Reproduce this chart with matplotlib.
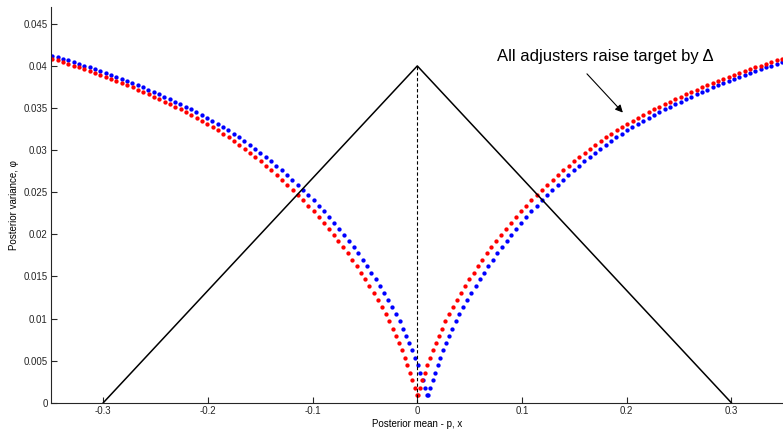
import matplotlib
matplotlib.use('Agg')
import matplotlib.pyplot as plt
import numpy as np

plt.rcParams['font.family'] = ['Liberation Sans', 'DejaVu Sans']

# posterior variance at each step, and distance of the posterior mean from target
phi_levels = [0.00095, 0.00180, 0.00268, 0.00356, 0.00445, 0.00534, 0.00621, 0.00708, 0.00795, 0.00880,
              0.00965, 0.01050, 0.01140, 0.01222, 0.01303, 0.01384, 0.01464, 0.01543, 0.01622, 0.01700,
              0.01776, 0.01851, 0.01925, 0.01997, 0.02068, 0.02138, 0.02207, 0.02274, 0.02340, 0.02404,
              0.02467, 0.02529, 0.02589, 0.02647, 0.02704, 0.02759, 0.02813, 0.02865, 0.02916, 0.02966,
              0.03015, 0.03063, 0.03109, 0.03153, 0.03196, 0.03237, 0.03276, 0.03313, 0.03349, 0.03384,
              0.03418, 0.03451, 0.03483, 0.03514, 0.03545, 0.03575, 0.03605, 0.03634, 0.03662, 0.03690,
              0.03717, 0.03744, 0.03770, 0.03795, 0.03820, 0.03845, 0.03869, 0.03892, 0.03915, 0.03938,
              0.03960, 0.03982, 0.04003, 0.04024, 0.04045, 0.04065, 0.04085, 0.04104, 0.04123, 0.04142,
              0.04160]
spread = [0.0006, 0.0024, 0.0046, 0.0070, 0.0094, 0.0119, 0.0146, 0.0175, 0.0205, 0.0236,
          0.0268, 0.0302, 0.0340, 0.0376, 0.0416, 0.0457, 0.0498, 0.0538, 0.0579, 0.0621,
          0.0664, 0.0708, 0.0753, 0.0799, 0.0846, 0.0893, 0.0941, 0.0990, 0.1040, 0.1089,
          0.1140, 0.1191, 0.1242, 0.1293, 0.1344, 0.1395, 0.1446, 0.1497, 0.1548, 0.1599,
          0.1650, 0.1701, 0.1752, 0.1803, 0.1854, 0.1905, 0.1956, 0.2007, 0.2058, 0.2109,
          0.2160, 0.2211, 0.2262, 0.2313, 0.2364, 0.2415, 0.2466, 0.2517, 0.2568, 0.2619,
          0.2670, 0.2721, 0.2772, 0.2823, 0.2874, 0.2925, 0.2976, 0.3027, 0.3078, 0.3129,
          0.3180, 0.3231, 0.3282, 0.3333, 0.3384, 0.3435, 0.3486, 0.3537, 0.3588, 0.3639,
          0.3690]
target_shift = 0.01

# boundary triangle
tri_x = [-0.3, 0.0, 0.3]
tri_y = [0.0, 0.04, 0.0]

x_ticks = [-0.3, -0.2, -0.1, 0, 0.1, 0.2, 0.3]
x_tick_labels = ['-0.3', '-0.2', '-0.1', '0', '0.1', '0.2', '0.3']
y_ticks = [0, 0.005, 0.01, 0.015, 0.02, 0.025, 0.03, 0.035, 0.04, 0.045]
y_tick_labels = ['0', '0.005', '0.01', '0.015', '0.02', '0.025', '0.03', '0.035', '0.04', '0.045']

phi = np.array(phi_levels)
dev = np.array(spread)

fig = plt.figure(figsize=(7.83, 4.29), dpi=100)
ax = fig.add_axes([0.0651, 0.0613, 0.9357, 0.9224])

dot = dict(linestyle='none', marker='o', markersize=3.1, markeredgewidth=0)
ax.plot(target_shift - dev, phi, color='#0000ff', **dot)
ax.plot(target_shift + dev, phi, color='#0000ff', **dot)
ax.plot(-dev, phi, color='#ff0000', **dot)
ax.plot(dev, phi, color='#ff0000', **dot)

ax.plot(tri_x, tri_y, color='black', linewidth=1.1)
ax.plot([0, 0], [0, 0.04], color='black', linestyle='--', linewidth=0.8, dashes=(3, 2))

ax.annotate('', xy=(0.1964, 0.03446), xytext=(0.1621, 0.03906),
            arrowprops=dict(arrowstyle='-|>', color='black', lw=0.8, mutation_scale=11,
                            shrinkA=0, shrinkB=0))
ax.text(0.0765, 0.0406, 'All adjusters raise target by Δ', fontsize=12, va='baseline', ha='left')

ax.set_xlim(-0.35, 0.35)
ax.set_ylim(0, 0.047)
ax.set_xticks(x_ticks)
ax.set_xticklabels(x_tick_labels)
ax.set_yticks(y_ticks)
ax.set_yticklabels(y_tick_labels)
ax.tick_params(direction='in', length=4.5, width=0.8, labelsize=7, pad=2.5, colors='#262626')
ax.spines['top'].set_visible(False)
ax.spines['right'].set_visible(False)
for side in ['left', 'bottom']:
    ax.spines[side].set_color('#262626')
    ax.spines[side].set_linewidth(0.8)

ax.set_xlabel('Posterior mean - p, x', fontsize=7, labelpad=2)
ax.set_ylabel('Posterior variance, φ', fontsize=7)
ax.yaxis.set_label_coords(-0.0443, 0.5)

fig.savefig('out.png', dpi=100)
